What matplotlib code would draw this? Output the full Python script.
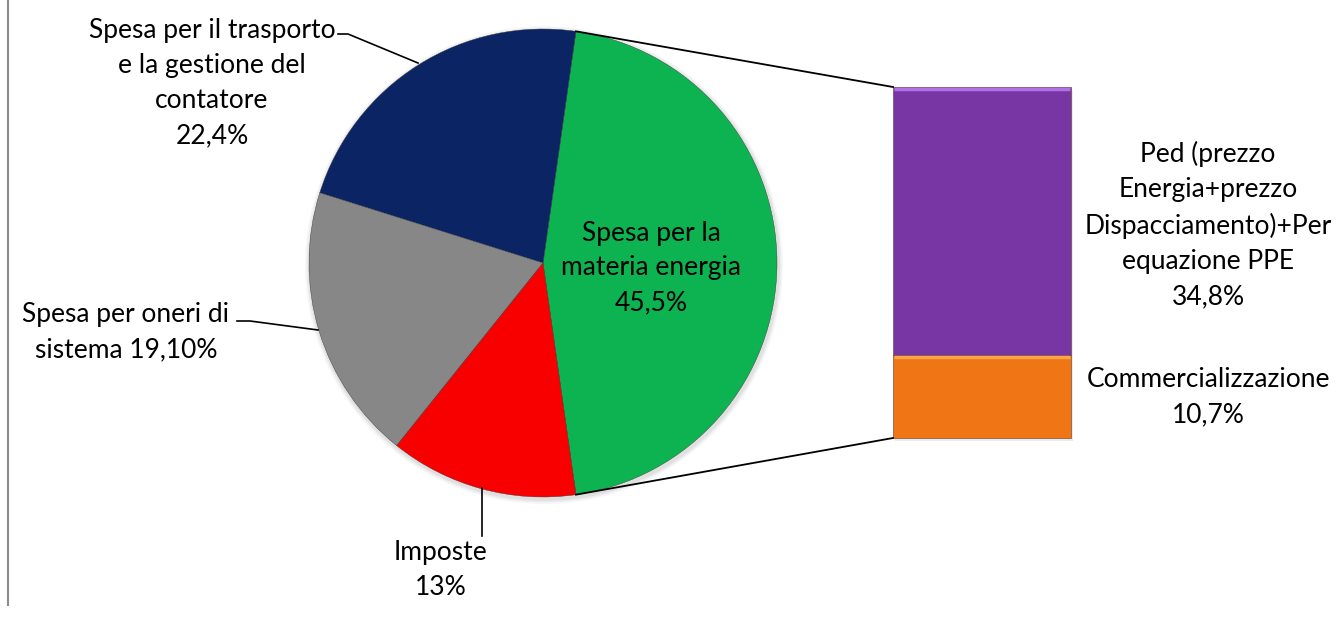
import numpy as np
import matplotlib.pyplot as plt

# dati della torta
pie_names = ["Spesa per la\nmateria energia",
             "Spesa per il trasporto\ne la gestione del\ncontatore",
             "Spesa per oneri di\nsistema",
             "Imposte"]
pie_values = [45.5, 22.4, 19.1, 13.0]
pie_pct = ["45,5%", "22,4%", "19,10%", "13%"]
pie_sep = ["\n", "\n", " ", "\n"]
pie_colors = ["#0CB350", "#0B2463", "#878787", "#F80000"]

# dettaglio della spesa per la materia energia
bar_names = ["Ped (prezzo\nEnergia+prezzo\nDispacciamento)+Per\nequazione PPE",
             "Commercializzazione"]
bar_values = [34.8, 10.7]
bar_pct = ["34,8%", "10,7%"]
bar_colors = ["#7836A5", "#F07515"]
bar_light = ["#B070E8", "#FFA348"]

plt.rcParams["font.family"] = ["Lato", "DejaVu Sans"]

W, H = 1338, 619
fig = plt.figure(figsize=(W / 100, H / 100), dpi=100)
ax = fig.add_axes([0, 0, 1, 1])

# torta
cx, cy, r = 543, 356, 234
start = -pie_values[0] * 3.6 / 2
# ombra leggera
for k, a in enumerate([0.05, 0.04, 0.03]):
    ax.add_patch(plt.Circle((cx + 1, cy - 2), r + 2 + k * 1.5, color="black",
                            alpha=a, lw=0))
wedges, _ = ax.pie(pie_values, colors=pie_colors, startangle=start,
                   counterclock=True, radius=r, center=(cx, cy), frame=True,
                   wedgeprops=dict(edgecolor="#3a3a3a", linewidth=0.3))
ax.set_xlim(0, W)
ax.set_ylim(0, H)
ax.set_aspect("equal")
ax.axis("off")

# barra
bx, bw, bbot, btop = 982, 178, 181, 532
scale = (btop - bbot) / sum(bar_values)
ax.bar(bx + 2, btop - bbot, width=bw, bottom=bbot - 3, color="black",
       alpha=0.08, lw=0)
bottom = bbot
for val, col, lc in zip(bar_values[::-1], bar_colors[::-1], bar_light[::-1]):
    ax.bar(bx, val * scale, width=bw, bottom=bottom, color=col,
           edgecolor="#5a3a30", linewidth=0.4)
    top = bottom + val * scale
    ax.plot([bx - bw / 2 + 1, bx + bw / 2 - 1], [top - 2, top - 2],
            color=lc, lw=2.5, solid_capstyle="butt")
    bottom = top

# linee di collegamento
w0 = wedges[0]
for ang, yb in [(w0.theta2, btop), (w0.theta1, bbot)]:
    px = cx + r * np.cos(np.radians(ang))
    py = cy + r * np.sin(np.radians(ang))
    ax.plot([px, bx - bw / 2], [py, yb], color="black", lw=1.3)

fs = 19
ls = 1.5
# etichette torta
ax.text(651, 351, pie_names[0] + pie_sep[0] + pie_pct[0], ha="center",
        va="center", fontsize=fs, linespacing=ls)
ax.text(212, 536, pie_names[1] + pie_sep[1] + pie_pct[1], ha="center",
        va="center", fontsize=fs, linespacing=ls)
ax.text(126, 287, pie_names[2] + pie_sep[2] + pie_pct[2], ha="center",
        va="center", fontsize=fs, linespacing=ls)
ax.text(441, 49, pie_names[3] + pie_sep[3] + pie_pct[3], ha="center",
        va="center", fontsize=fs, linespacing=ls)

# linee guida
ax.plot([338, 348, 418], [H - 34, H - 34, H - 63], color="black", lw=1.2)
ax.plot([237, 250, 318], [H - 321, H - 321, H - 330], color="black", lw=1.2)
ax.plot([482, 482], [H - 488, H - 536], color="black", lw=1.2)

# etichette barra
ax.text(1208, H - 225, bar_names[0] + "\n" + bar_pct[0], ha="center",
        va="center", fontsize=fs, linespacing=ls)
ax.text(1208, H - 397, bar_names[1] + "\n" + bar_pct[1], ha="center",
        va="center", fontsize=fs, linespacing=ls)

# bordo sinistro
ax.plot([8, 8], [H, H - 605], color="#8c8c8c", lw=1.5)

fig.savefig("out.png", dpi=100)
